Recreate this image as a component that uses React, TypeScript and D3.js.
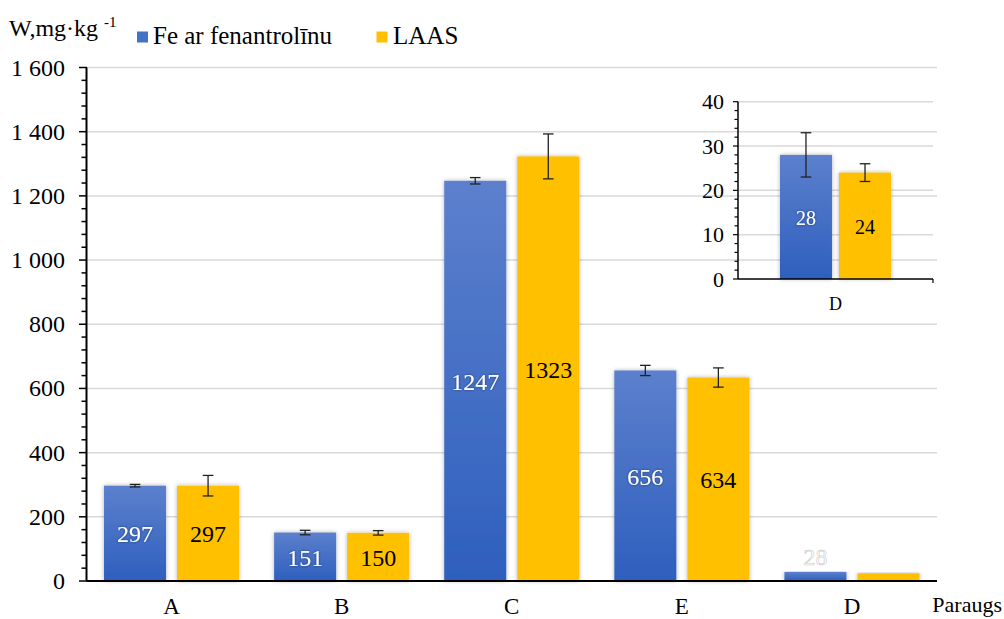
import React from 'react';
import * as d3 from 'd3';

const categories = ['A', 'B', 'C', 'E', 'D'];
const seriesNames = ['Fe ar fenantrolīnu', 'LAAS'];
const feValues = [297, 151, 1247, 656, 28];
const laasValues = [297, 150, 1323, 634, 24];
const feErrors = [4, 7, 10, 16, 5];
const laasErrors = [32, 7, 70, 30, 2];
const yTicks = [0, 200, 400, 600, 800, 1000, 1200, 1400, 1600];
const insetCategory = ['D'];
const insetFe = [28];
const insetLaas = [24];
const insetFeErr = [5];
const insetLaasErr = [2];
const insetTicks = [0, 10, 20, 30, 40];

const FONT = '"Liberation Serif", "Times New Roman", serif';
const YELLOW = '#ffc000';

const locale = d3.formatLocale({ decimal: ',', thousands: ' ', grouping: [3], currency: ['', ''] });
const fmt = locale.format(',');

export default function App() {
  const W = 1004;
  const H = 619;

  // main plot
  const x = d3.scaleBand<string>().domain(categories).range([86.5, 937]).paddingInner(0.206).paddingOuter(0.103);
  const x1 = d3.scaleBand<string>().domain(['fe', 'laas']).range([0, x.bandwidth()]).paddingInner(0.151);
  const y = d3.scaleLinear().domain([0, 1600]).range([581, 67.5]);
  const minorTicks = d3.range(0, 1601, 40);

  // inset plot
  const xi = d3.scaleBand<string>().domain(insetCategory).range([738, 933]).paddingInner(0).paddingOuter(0.378);
  const xi1 = d3.scaleBand<string>().domain(['fe', 'laas']).range([0, xi.bandwidth()]).paddingInner(0.119);
  const yi = d3.scaleLinear().domain([0, 40]).range([279, 101.7]);
  const insetMinor = d3.range(0, 41, 2);

  const errBar = (cx: number, top: number, bottom: number, key: string, cap = 5.3) => (
    <g key={key} stroke="#222" strokeWidth={1.3}>
      <line x1={cx} x2={cx} y1={top} y2={bottom} />
      <line x1={cx - cap} x2={cx + cap} y1={top} y2={top} />
      <line x1={cx - cap} x2={cx + cap} y1={bottom} y2={bottom} />
    </g>
  );

  return (
    <svg width={W} height={H} style={{ position: 'absolute', left: 0, top: 0, background: '#fff' }} fontFamily={FONT}>
      <defs>
        <linearGradient id="blueGrad" x1="0" y1="0" x2="0" y2="1">
          <stop offset="0%" stopColor="#5c80cd" />
          <stop offset="100%" stopColor="#2e5fbd" />
        </linearGradient>
        <filter id="barShadow" x="-20%" y="-10%" width="140%" height="120%">
          <feDropShadow dx="0" dy="0" stdDeviation="2" floodColor="#000" floodOpacity="0.3" />
        </filter>
        <filter id="textGlow" x="-30%" y="-30%" width="160%" height="160%">
          <feDropShadow dx="0" dy="0" stdDeviation="1" floodColor="#1d2f5a" floodOpacity="0.8" />
        </filter>
      </defs>

      {/* main gridlines */}
      {yTicks.filter(t => t > 0).map(t => (
        <line key={'g' + t} x1={87} x2={937} y1={y(t)} y2={y(t)} stroke="#d9d9d9" strokeWidth={1.5} />
      ))}

      {/* main bars */}
      {categories.map((c, i) => {
        const bx = x(c)!;
        const fx = bx + x1('fe')!;
        const lx = bx + x1('laas')!;
        const bw = x1.bandwidth();
        return (
          <g key={c}>
            <rect x={fx} y={y(feValues[i])} width={bw} height={y(0) - y(feValues[i])} fill="url(#blueGrad)" filter="url(#barShadow)" />
            <rect x={lx} y={y(laasValues[i])} width={bw} height={y(0) - y(laasValues[i])} fill={YELLOW} filter="url(#barShadow)" />
          </g>
        );
      })}

      {/* main error bars */}
      {categories.map((c, i) => {
        if (c === 'D') return null;
        const bx = x(c)!;
        const bw = x1.bandwidth();
        const fc = bx + x1('fe')! + bw / 2;
        const lc = bx + x1('laas')! + bw / 2;
        return (
          <g key={'e' + c}>
            {errBar(fc, y(feValues[i] + feErrors[i]), y(feValues[i] - feErrors[i]), 'ef' + c)}
            {errBar(lc, y(laasValues[i] + laasErrors[i]), y(laasValues[i] - laasErrors[i]), 'el' + c)}
          </g>
        );
      })}

      {/* main value labels */}
      {categories.map((c, i) => {
        const bx = x(c)!;
        const bw = x1.bandwidth();
        const fc = bx + x1('fe')! + bw / 2;
        const lc = bx + x1('laas')! + bw / 2;
        if (c === 'D') {
          return (
            <text key={'l' + c} x={fc} y={y(feValues[i]) - 15} textAnchor="middle" dominantBaseline="central"
              fontSize={24} fill="#fff" stroke="#c8c8c8" strokeWidth={0.6}>{feValues[i]}</text>
          );
        }
        return (
          <g key={'l' + c}>
            <text x={fc} y={(y(feValues[i]) + y(0)) / 2 + 1} textAnchor="middle" dominantBaseline="central"
              fontSize={24} fill="#fff" filter="url(#textGlow)">{feValues[i]}</text>
            <text x={lc} y={(y(laasValues[i]) + y(0)) / 2 + 1} textAnchor="middle" dominantBaseline="central"
              fontSize={24} fill="#000">{laasValues[i]}</text>
          </g>
        );
      })}

      {/* main y axis */}
      <line x1={86.5} x2={86.5} y1={y(1600)} y2={y(0)} stroke="#000" strokeWidth={2} />
      {minorTicks.map(t => (
        <line key={'m' + t} x1={t % 200 === 0 ? 79 : 81.5} x2={87} y1={y(t)} y2={y(t)} stroke="#000" strokeWidth={1.5} />
      ))}
      {yTicks.map(t => (
        <text key={'yt' + t} x={65} y={y(t)} textAnchor="end" dominantBaseline="central" fontSize={24} fill="#000">{fmt(t)}</text>
      ))}

      {/* main x axis */}
      <line x1={86.5} x2={937} y1={y(0)} y2={y(0)} stroke="#000" strokeWidth={2} />
      {categories.map(c => (
        <text key={'xt' + c} x={x(c)! + x.bandwidth() / 2} y={614} textAnchor="middle" fontSize={23} fill="#000">{c}</text>
      ))}
      <text x={1002} y={612} textAnchor="end" fontSize={22} fill="#000">Paraugs</text>

      {/* y axis title */}
      <text x={9} y={36} fontSize={24} fill="#000">W,mg·kg <tspan fontSize={15} dy={-9}>-1</tspan></text>

      {/* legend */}
      <rect x={137} y={31.5} width={11} height={11} fill="#4472c4" />
      <text x={153} y={44} fontSize={25} fill="#000">{seriesNames[0]}</text>
      <rect x={376.5} y={31.5} width={11} height={11} fill={YELLOW} />
      <text x={393} y={44} fontSize={25} fill="#000">{seriesNames[1]}</text>

      {/* inset: gridlines */}
      {insetTicks.filter(t => t > 0).map(t => (
        <line key={'ig' + t} x1={738} x2={933} y1={yi(t)} y2={yi(t)} stroke="#d9d9d9" strokeWidth={1.5} />
      ))}

      {/* inset bars */}
      {insetCategory.map((c, i) => {
        const bx = xi(c)!;
        const bw = xi1.bandwidth();
        const fx = bx + xi1('fe')!;
        const lx = bx + xi1('laas')!;
        return (
          <g key={'i' + c}>
            <rect x={fx} y={yi(insetFe[i])} width={bw} height={yi(0) - yi(insetFe[i])} fill="url(#blueGrad)" filter="url(#barShadow)" />
            <rect x={lx} y={yi(insetLaas[i])} width={bw} height={yi(0) - yi(insetLaas[i])} fill={YELLOW} filter="url(#barShadow)" />
            {errBar(fx + bw / 2, yi(insetFe[i] + insetFeErr[i]), yi(insetFe[i] - insetFeErr[i]), 'ief')}
            {errBar(lx + bw / 2, yi(insetLaas[i] + insetLaasErr[i]), yi(insetLaas[i] - insetLaasErr[i]), 'iel')}
            <text x={fx + bw / 2} y={(yi(insetFe[i]) + yi(0)) / 2 + 1} textAnchor="middle" dominantBaseline="central"
              fontSize={20} fill="#fff" filter="url(#textGlow)">{insetFe[i]}</text>
            <text x={lx + bw / 2} y={(yi(insetLaas[i]) + yi(0)) / 2 + 1} textAnchor="middle" dominantBaseline="central"
              fontSize={20} fill="#000">{insetLaas[i]}</text>
            <text x={bx + xi.bandwidth() / 2} y={310} textAnchor="middle" fontSize={18} fill="#000">{c}</text>
          </g>
        );
      })}

      {/* inset axes */}
      <line x1={738} x2={738} y1={yi(40)} y2={yi(0)} stroke="#000" strokeWidth={1.5} />
      {insetMinor.map(t => (
        <line key={'im' + t} x1={t % 10 === 0 ? 733 : 734.5} x2={738} y1={yi(t)} y2={yi(t)} stroke="#000" strokeWidth={1.2} />
      ))}
      {insetTicks.map(t => (
        <text key={'it' + t} x={724} y={yi(t)} textAnchor="end" dominantBaseline="central" fontSize={22} fill="#000">{t}</text>
      ))}
      <line x1={738} x2={933} y1={yi(0)} y2={yi(0)} stroke="#000" strokeWidth={1.5} />
      <line x1={933} x2={933} y1={yi(0)} y2={yi(0) + 4} stroke="#000" strokeWidth={1.2} />
    </svg>
  );
}
